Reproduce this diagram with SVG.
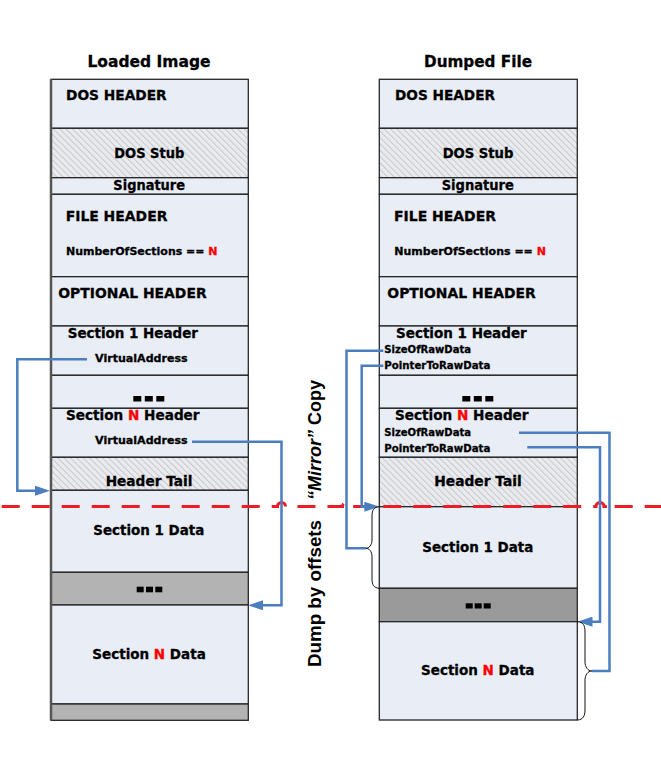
<svg xmlns="http://www.w3.org/2000/svg" width="661" height="772" viewBox="0 0 661 772">
<style>
.t{font-family:"DejaVu Sans","Liberation Sans",sans-serif;font-weight:bold;fill:#000;stroke:#000;stroke-width:0.3}
.v{font-family:"Liberation Sans",Arial,sans-serif;font-weight:bold;font-size:18px;fill:#000}
.red{fill:#ff0000;stroke:#ff0000}
.cell{fill:#e8edf6;stroke:#262626;stroke-width:1.3}
.hat{fill:url(#hatch);stroke:#262626;stroke-width:1.3}
.g1{fill:#b3b3b3;stroke:#262626;stroke-width:1.3}
.g2{fill:#9a9a9a;stroke:#262626;stroke-width:1.3}
.conn{fill:none;stroke:#4a7ebf;stroke-width:2.5}
.brace{fill:none;stroke:#111;stroke-width:1}
.dash{fill:none;stroke:#ee1c25;stroke-width:3;stroke-dasharray:18 12;stroke-dashoffset:28.3}
.sq{fill:#000}
</style>
<defs>
<pattern id="hatch" width="4.5" height="4.5" patternUnits="userSpaceOnUse" patternTransform="rotate(-45)">
<rect width="4.5" height="4.5" fill="#e9ebef"/>
<line x1="0.5" y1="0" x2="0.5" y2="4.5" stroke="#c4c7cc" stroke-width="1"/>
</pattern>
<marker id="arr" viewBox="0 0 15 10" markerUnits="userSpaceOnUse" markerWidth="15" markerHeight="10" refX="7" refY="5" orient="auto">
<path d="M0,0 L15,5 L0,10 z" fill="#4a7ebf"/>
</marker>
</defs>
<rect width="661" height="772" fill="#fff"/>

<g id="title-loaded"><text class="t" x="149" y="67" font-size="15.2" text-anchor="middle" textLength="123" lengthAdjust="spacingAndGlyphs">Loaded Image</text></g>
<g id="title-dumped"><text class="t" x="478" y="67" font-size="15.2" text-anchor="middle" textLength="108" lengthAdjust="spacingAndGlyphs">Dumped File</text></g>

<!-- Left column -->
<g id="L-dos-header"><rect class="cell" x="51" y="79.3" width="197.3" height="49"/><text class="t" x="66" y="100" font-size="14" textLength="100.7" lengthAdjust="spacingAndGlyphs">DOS HEADER</text></g>
<g id="L-dos-stub"><rect class="hat" x="51" y="128.3" width="197.3" height="49.4"/><text class="t" x="149.3" y="157.7" font-size="13.5" text-anchor="middle" textLength="70" lengthAdjust="spacingAndGlyphs">DOS Stub</text></g>
<g id="L-signature"><rect class="cell" x="51" y="177.7" width="197.3" height="16.6"/><text class="t" x="149.2" y="190" font-size="13.5" text-anchor="middle" textLength="71.7" lengthAdjust="spacingAndGlyphs">Signature</text></g>
<g id="L-file-header"><rect class="cell" x="51" y="194.3" width="197.3" height="82.4"/><text class="t" x="65.7" y="220.7" font-size="14" textLength="101.7" lengthAdjust="spacingAndGlyphs">FILE HEADER</text><text class="t" x="66" y="255" font-size="11">NumberOfSections == <tspan class="red">N</tspan></text></g>
<g id="L-optional-header"><rect class="cell" x="51" y="276.7" width="197.3" height="49.3"/><text class="t" x="58.3" y="297.5" font-size="14" textLength="148.3" lengthAdjust="spacingAndGlyphs">OPTIONAL HEADER</text></g>
<g id="L-section1-header"><rect class="cell" x="51" y="326" width="197.3" height="49.3"/><text class="t" x="67.7" y="337.7" font-size="13.5" textLength="130.3" lengthAdjust="spacingAndGlyphs">Section 1 Header</text><text class="t" x="95" y="362" font-size="11" textLength="92.7" lengthAdjust="spacingAndGlyphs">VirtualAddress</text></g>
<g id="L-header-dots"><rect class="cell" x="51" y="375.3" width="197.3" height="33"/><rect class="sq" x="133.3" y="396" width="8" height="5.5"/><rect class="sq" x="144.8" y="396" width="8" height="5.5"/><rect class="sq" x="156.3" y="396" width="8" height="5.5"/></g>
<g id="L-sectionN-header"><rect class="cell" x="51" y="408.3" width="197.3" height="49"/><text class="t" x="66" y="420" font-size="13.6">Section <tspan class="red">N</tspan> Header</text><text class="t" x="95" y="444" font-size="11" textLength="92.7" lengthAdjust="spacingAndGlyphs">VirtualAddress</text></g>
<g id="L-header-tail"><rect class="hat" x="51" y="457.3" width="197.3" height="33"/><text class="t" x="149" y="485.7" font-size="13.5" text-anchor="middle" textLength="86.7" lengthAdjust="spacingAndGlyphs">Header Tail</text></g>
<g id="L-section1-data"><rect class="cell" x="51" y="490.3" width="197.3" height="82"/><text class="t" x="148.8" y="535" font-size="13.5" text-anchor="middle" textLength="111" lengthAdjust="spacingAndGlyphs">Section 1 Data</text></g>
<g id="L-data-dots"><rect class="g1" x="51" y="572.3" width="197.3" height="32.7"/><rect class="sq" x="136.7" y="586.7" width="7" height="5.6"/><rect class="sq" x="146" y="586.7" width="7" height="5.6"/><rect class="sq" x="155.3" y="586.7" width="7" height="5.6"/></g>
<g id="L-sectionN-data"><rect class="cell" x="51" y="605" width="197.3" height="99"/><text class="t" x="92.3" y="659" font-size="13.5">Section <tspan class="red">N</tspan> Data</text></g>
<g id="L-tail-gray"><rect class="g1" x="51" y="704" width="197.3" height="16.3"/></g>
<line x1="51" y1="79.3" x2="51" y2="720.3" stroke="#555" stroke-width="2.5"/>

<!-- Right column -->
<g id="R-dos-header"><rect class="cell" x="379.3" y="79.3" width="198" height="49"/><text class="t" x="395" y="100" font-size="14" textLength="100" lengthAdjust="spacingAndGlyphs">DOS HEADER</text></g>
<g id="R-dos-stub"><rect class="hat" x="379.3" y="128.3" width="198" height="49.4"/><text class="t" x="478" y="157.7" font-size="13.5" text-anchor="middle" textLength="70.7" lengthAdjust="spacingAndGlyphs">DOS Stub</text></g>
<g id="R-signature"><rect class="cell" x="379.3" y="177.7" width="198" height="16.6"/><text class="t" x="477.8" y="190" font-size="13.5" text-anchor="middle" textLength="72.3" lengthAdjust="spacingAndGlyphs">Signature</text></g>
<g id="R-file-header"><rect class="cell" x="379.3" y="194.3" width="198" height="82.4"/><text class="t" x="394" y="220.7" font-size="14" textLength="102" lengthAdjust="spacingAndGlyphs">FILE HEADER</text><text class="t" x="394.3" y="255" font-size="11">NumberOfSections == <tspan class="red">N</tspan></text></g>
<g id="R-optional-header"><rect class="cell" x="379.3" y="276.7" width="198" height="49.3"/><text class="t" x="387.3" y="297.5" font-size="14" textLength="148.4" lengthAdjust="spacingAndGlyphs">OPTIONAL HEADER</text></g>
<g id="R-section1-header"><rect class="cell" x="379.3" y="326" width="198" height="49.3"/><text class="t" x="396" y="337.7" font-size="13.5" textLength="130.7" lengthAdjust="spacingAndGlyphs">Section 1 Header</text><text class="t" x="384.3" y="353.3" font-size="10" textLength="86.7" lengthAdjust="spacingAndGlyphs">SizeOfRawData</text><text class="t" x="384.3" y="369.3" font-size="10" textLength="106" lengthAdjust="spacingAndGlyphs">PointerToRawData</text></g>
<g id="R-header-dots"><rect class="cell" x="379.3" y="375.3" width="198" height="33"/><rect class="sq" x="462.3" y="396" width="8" height="5.5"/><rect class="sq" x="473.8" y="396" width="8" height="5.5"/><rect class="sq" x="485.3" y="396" width="8" height="5.5"/></g>
<g id="R-sectionN-header"><rect class="cell" x="379.3" y="408.3" width="198" height="49"/><text class="t" x="395" y="420" font-size="13.6">Section <tspan class="red">N</tspan> Header</text><text class="t" x="384.3" y="435.7" font-size="10" textLength="86.7" lengthAdjust="spacingAndGlyphs">SizeOfRawData</text><text class="t" x="384.3" y="451.7" font-size="10" textLength="106" lengthAdjust="spacingAndGlyphs">PointerToRawData</text></g>
<g id="R-header-tail"><rect class="hat" x="379.3" y="457.3" width="198" height="49.4"/><text class="t" x="478" y="485.7" font-size="13.5" text-anchor="middle" textLength="87.3" lengthAdjust="spacingAndGlyphs">Header Tail</text></g>
<g id="R-section1-data"><rect class="cell" x="379.3" y="506.7" width="198" height="81.6"/><text class="t" x="477.8" y="551.7" font-size="13.5" text-anchor="middle" textLength="111" lengthAdjust="spacingAndGlyphs">Section 1 Data</text></g>
<g id="R-data-dots"><rect class="g2" x="379.3" y="588.3" width="198" height="33.4"/><rect class="sq" x="465.7" y="603.3" width="7" height="5.2"/><rect class="sq" x="474.7" y="603.3" width="7" height="5.2"/><rect class="sq" x="483.7" y="603.3" width="7" height="5.2"/></g>
<g id="R-sectionN-data"><rect class="cell" x="379.3" y="621.7" width="198" height="98.3"/><text class="t" x="421" y="675" font-size="13.5">Section <tspan class="red">N</tspan> Data</text></g>

<!-- red boundary line -->
<g id="boundary">
<path class="dash" d="M0,506.5 H277.5 A4,4 0 0 1 285.5,506.5 H342.5 A4,4 0 0 1 350.5,506.5 H596 A4,4 0 0 1 604,506.5 H605.5 A4,4 0 0 1 613.5,506.5 H661"/>
</g>

<!-- vertical labels -->
<g id="label-dump"><text class="v" transform="translate(320.5,667) rotate(-90)" textLength="147" lengthAdjust="spacingAndGlyphs">Dump by offsets</text></g>
<g id="label-mirror"><text class="v" transform="translate(320.5,500) rotate(-90)"><tspan font-style="italic">“Mirror”</tspan> Copy</text></g>

<!-- connectors -->
<g id="connectors">
<path class="conn" d="M87,359.3 H17.3 V490.7 H42" marker-end="url(#arr)"/>
<path class="conn" d="M192,441.7 H281.5 V605.3 H256" marker-end="url(#arr)"/>
<path class="conn" d="M383.3,350.7 H346.5 V548.3 H366"/>
<path class="conn" d="M383.3,365.7 H361.7 V506.7 H371.3" marker-end="url(#arr)"/>
<path class="conn" d="M519,432.7 H609.5 V671 H591.7"/>
<path class="conn" d="M527.3,447.3 H600 V621.7 H585.5" marker-end="url(#arr)"/>
<path class="brace" d="M379.3,506.7 C374,507 372,510 372,516 L372,540 C372,545 369,548.3 366,548.3 C369,548.3 372,551.5 372,556.5 L372,579 C372,585 374,588 379.3,588.3"/>
<path class="brace" d="M577.5,621.7 C583,622 585,625 585,632 L585,662 C585,667 588,671 591.7,671 C588,671 585,675 585,680 L585,710 C585,716 583,719.7 577.5,720"/>
</g>
</svg>
